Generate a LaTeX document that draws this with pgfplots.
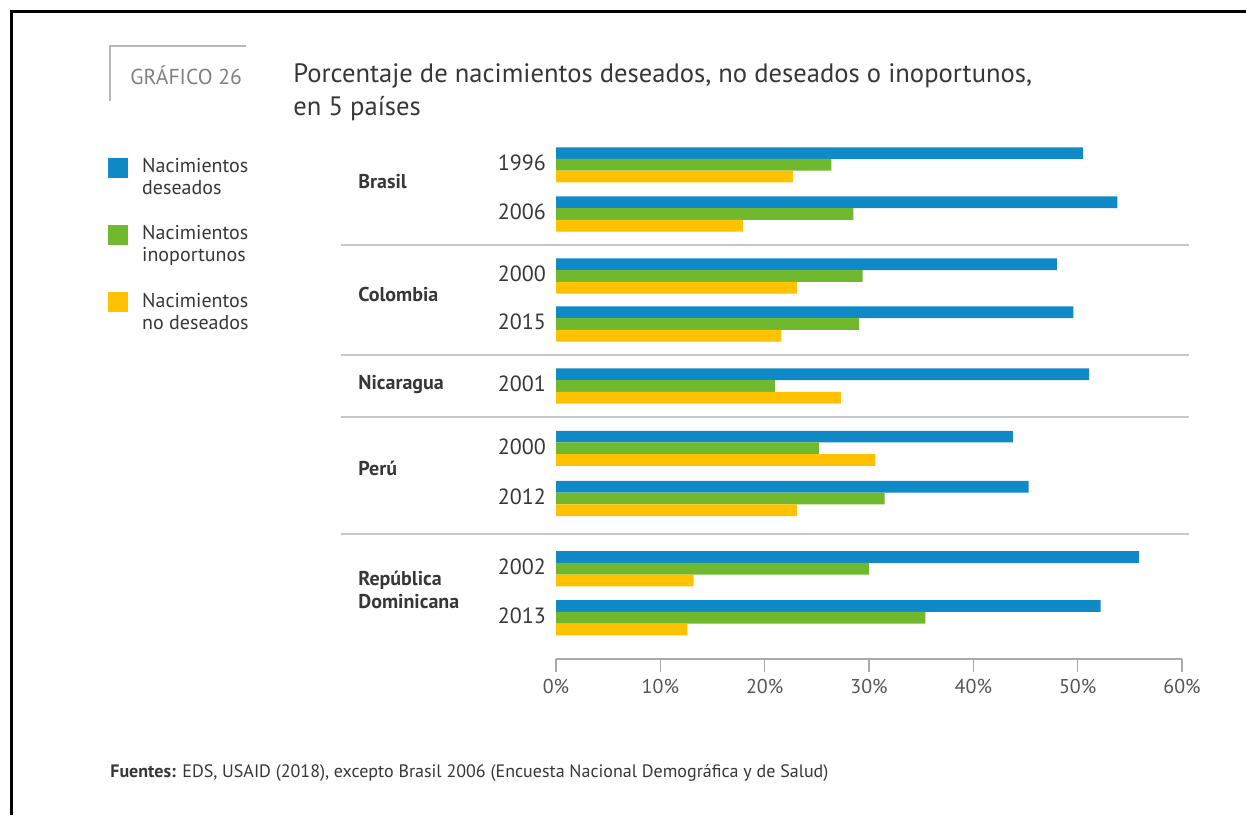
\documentclass[border=0pt]{standalone}
\usepackage{pgfplots}
\pgfplotsset{compat=1.18}
\usepackage{fontspec}
\setmainfont{PT Sans}
\definecolor{cblue}{RGB}{16,138,199}
\definecolor{cgreen}{RGB}{112,184,46}
\definecolor{cyellow}{RGB}{255,193,0}
\definecolor{sepgray}{RGB}{200,200,200}
\definecolor{axgray}{RGB}{170,170,170}
\definecolor{txt}{RGB}{55,55,55}
\definecolor{lbl}{RGB}{85,85,85}
\begin{document}
\begin{tikzpicture}
\begin{scope}[x=0.5pt,y=-0.5pt]
\draw[line width=1.5pt] (11,815) -- (11,11) -- (1246,11);
\draw[gray!55, line width=0.7pt] (110,101) -- (110,46) -- (246,46);
\node[anchor=west, text=gray, font=\fontsize{10.8}{12}\selectfont, inner sep=0pt] at (130,75) {GRÁFICO 26};
\node[anchor=west, align=left, font=\fontsize{13.3}{16.5}\selectfont, text=txt, inner sep=0pt] at (293,92) {Porcentaje de nacimientos deseados, no deseados o inoportunos,\\en 5 países};
\foreach \yy in {245.3,355.3,417.3,533.7} \draw[sepgray, line width=1pt] (341,\yy) -- (1189,\yy);
\begin{scope}[every node/.style={anchor=west, inner sep=0pt, font=\fontsize{10}{11.5}\selectfont\bfseries, text=txt, align=left}]
\node at (358,182) {Brasil};
\node at (358,294) {Colombia};
\node at (358,384) {Nicaragua};
\node at (358,468) {Perú};
\node at (358,590) {República\\Dominicana};
\end{scope}
\node[anchor=west, inner sep=0pt, text=txt, font=\fontsize{9}{10}\selectfont] at (110,773) {\textbf{Fuentes:} EDS, USAID (2018), excepto Brasil 2006 (Encuesta Nacional Demográfica y de Salud)};
\end{scope}
\begin{axis}[
  at={(278pt,-329.5pt)}, anchor=south west,
  scale only axis, width=313pt, height=259.5pt,
  xmin=0, xmax=60, ymin=0, ymax=519,
  xbar, bar width=5.85pt, bar shift=0pt,
  axis x line*=bottom, axis y line*=left,
  x axis line style={-, draw=axgray, line width=0.8pt},
  y axis line style={draw=none},
  xtick={0,10,20,30,40,50,60},
  xticklabels={0\%,10\%,20\%,30\%,40\%,50\%,60\%},
  xtick style={draw=axgray, line width=0.8pt},
  tick align=outside, major tick length=6.5pt,
  xticklabel style={font=\fontsize{10}{12}\selectfont, text=lbl},
  ytick={494.2,445,383,335,273,210.7,160.5,90.3,41.3},
  yticklabels={1996,2006,2000,2015,2001,2000,2012,2002,2013},
  ytick style={draw=none},
  yticklabel style={font=\fontsize{11}{13}\selectfont, text=txt, xshift=5pt, yshift=1pt},
  clip=false,
  legend style={at={(-0.716,0.973)}, anchor=north west, draw=none, fill=none,
    font=\fontsize{10}{11}\selectfont, text=txt, cells={align=left},
    row sep=10pt, inner sep=0pt,
    /tikz/every odd column/.append style={column sep=5pt}},
  legend cell align=left,
  legend image code/.code={\fill[#1] (0pt,0pt) rectangle (10pt,10pt);},
]
\addplot[fill=cblue, draw=none] coordinates {
(50.5,505.9) (53.8,456.7) (48.0,394.7) (49.6,346.7) (51.1,284.7) (43.8,222.4) (45.3,172.2) (55.9,102.0) (52.2,53.0)};
\addlegendentry{Nacimientos\\deseados}
\addplot[fill=cgreen, draw=none] coordinates {
(26.4,494.2) (28.5,445) (29.4,383) (29.05,335) (21.0,273) (25.2,210.7) (31.5,160.5) (30.0,90.3) (35.4,41.3)};
\addlegendentry{Nacimientos\\inoportunos}
\addplot[fill=cyellow, draw=none] coordinates {
(22.7,482.5) (17.9,433.3) (23.1,371.3) (21.6,323.3) (27.3,261.3) (30.6,199.0) (23.1,148.8) (13.2,78.6) (12.6,29.6)};
\addlegendentry{Nacimientos\\no deseados}
\end{axis}
\pgfresetboundingbox
\path[use as bounding box] (0,0) rectangle (623pt,-407.5pt);
\end{tikzpicture}
\end{document}
